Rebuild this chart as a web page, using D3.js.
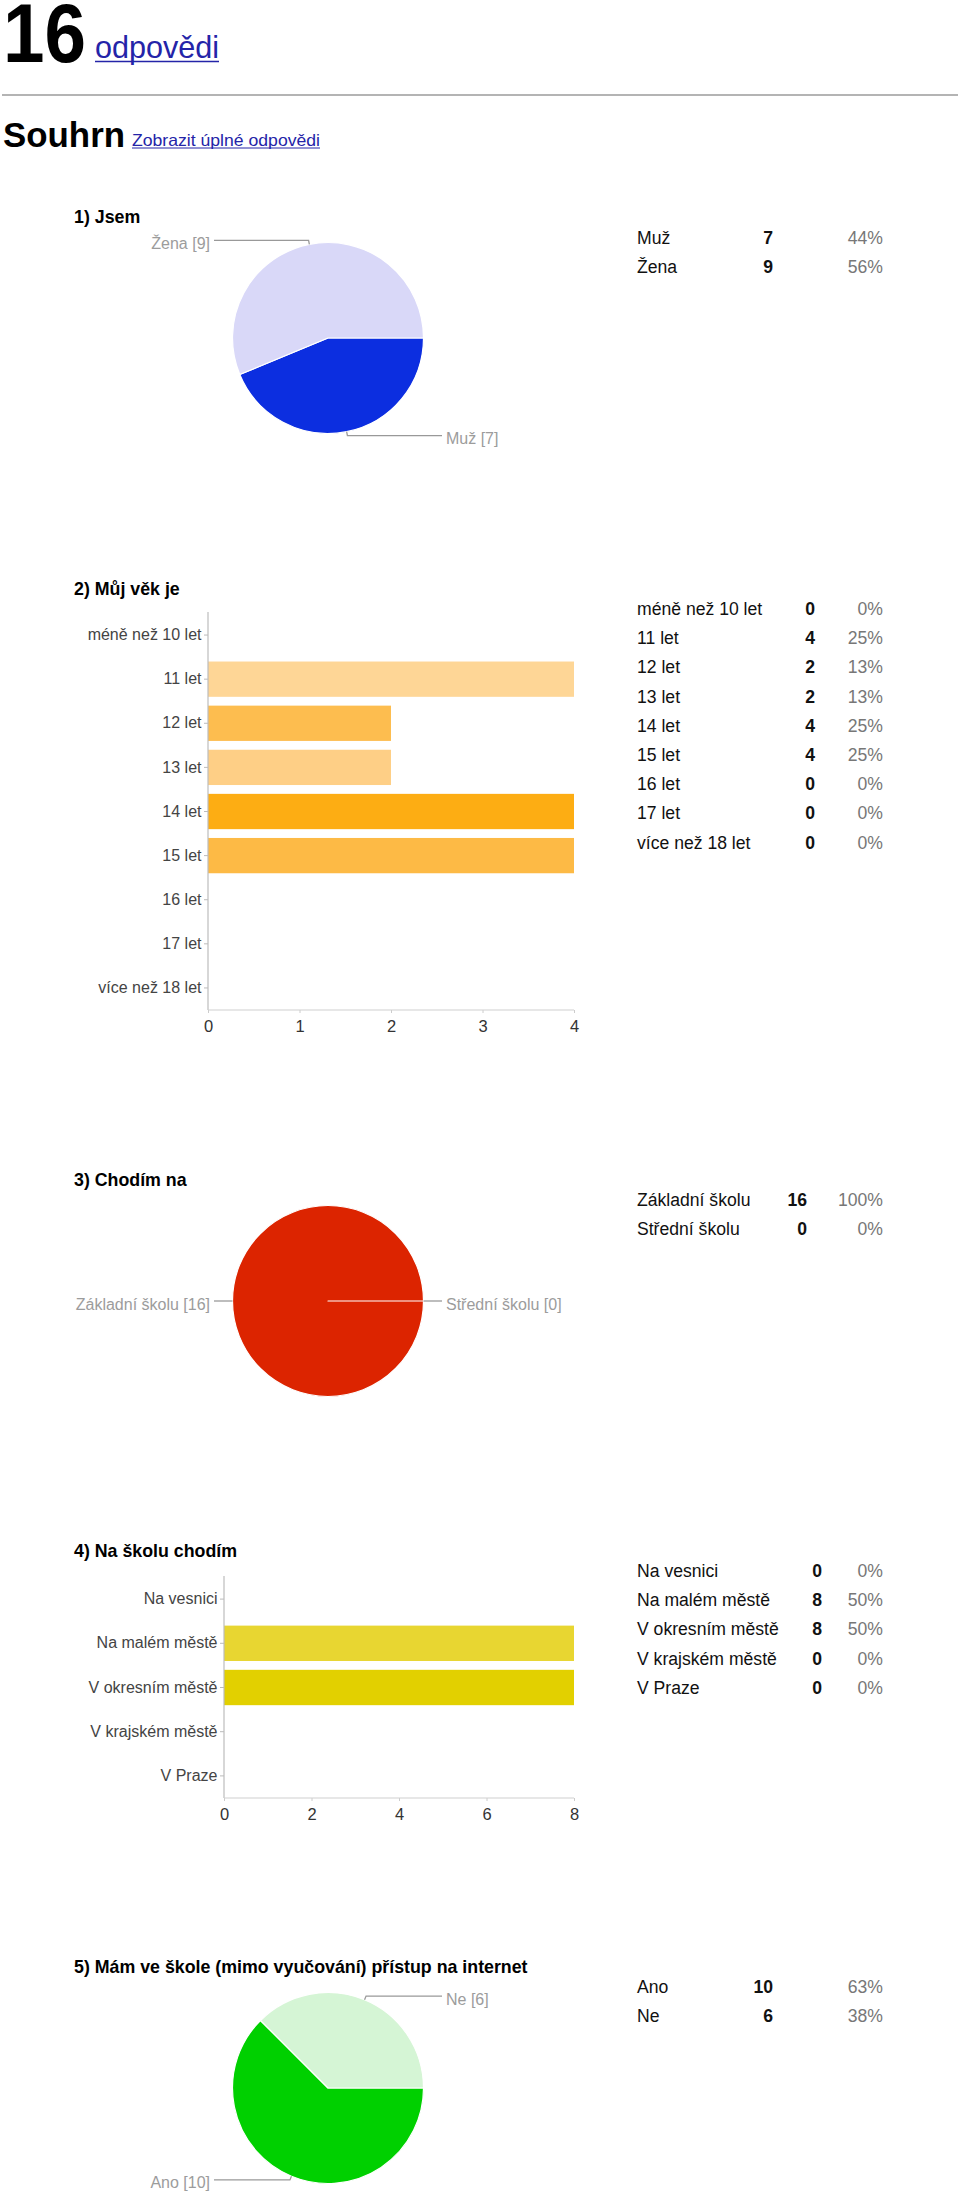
<!DOCTYPE html>
<html><head><meta charset="utf-8">
<script src="https://cdn.jsdelivr.net/npm/d3@7"></script>
<style>
html,body{margin:0;padding:0;background:#fff;}
svg{display:block;font-family:"Liberation Sans",Arial,Helvetica,sans-serif;}
</style>
</head><body>
<svg id="c" width="960" height="2193"></svg>
<script>
// ---------- DATA ----------
const headerCount = "16";
const headerLink = "odpovědi";
const summaryTitle = "Souhrn";
const summaryLink = "Zobrazit úplné odpovědi";

const q1Title = "1) Jsem";
const q1Labels = ["Muž", "Žena"];
const q1Values = [7, 9];

const q2Title = "2) Můj věk je";
const q2Labels = ["méně než 10 let", "11 let", "12 let", "13 let", "14 let", "15 let", "16 let", "17 let", "více než 18 let"];
const q2Values = [0, 4, 2, 2, 4, 4, 0, 0, 0];
const q2Ticks = [0, 1, 2, 3, 4];

const q3Title = "3) Chodím na";
const q3Labels = ["Základní školu", "Střední školu"];
const q3Values = [16, 0];

const q4Title = "4) Na školu chodím";
const q4Labels = ["Na vesnici", "Na malém městě", "V okresním městě", "V krajském městě", "V Praze"];
const q4Values = [0, 8, 8, 0, 0];
const q4Ticks = [0, 2, 4, 6, 8];

const q5Title = "5) Mám ve škole (mimo vyučování) přístup na internet";
const q5Labels = ["Ano", "Ne"];
const q5Values = [10, 6];

// ---------- STYLE / LAYOUT ----------
const q1Colors = ["#0c2ee0", "#d9d8f8"];
const q2Colors = ["#fee2b3", "#fed696", "#fdbd4f", "#fecf86", "#fdad13", "#fdba45", "#fec66a", "#fed696", "#fdbd4f"];
const q3Colors = ["#dc2400", "#f4a27a"];
const q4Colors = ["#eee27a", "#e8d631", "#e2d000", "#efe57a", "#f3ea9a"];
const q5Colors = ["#00d000", "#d5f5d5"];

const svg = d3.select("#c");
const FONT = '"Liberation Sans",Arial,Helvetica,sans-serif';
const LINK = "#2424a8";

// ---------- HEADER ----------
svg.append("text").attr("x", 3).attr("y", 62)
  .attr("font-size", 84).attr("font-weight", "bold").attr("fill", "#000")
  .attr("textLength", 83).attr("lengthAdjust", "spacingAndGlyphs")
  .text(headerCount);
svg.append("text").attr("x", 95).attr("y", 58)
  .attr("font-size", 32).attr("fill", LINK)
  .attr("textLength", 124).attr("lengthAdjust", "spacingAndGlyphs")
  .text(headerLink);
svg.append("line").attr("x1", 95).attr("x2", 219).attr("y1", 61.5).attr("y2", 61.5)
  .attr("stroke", LINK).attr("stroke-width", 1.6);

svg.append("line").attr("x1", 2).attr("x2", 958).attr("y1", 95).attr("y2", 95)
  .attr("stroke", "#b4b4b4").attr("stroke-width", 2.2);

svg.append("text").attr("x", 3).attr("y", 147)
  .attr("font-size", 35).attr("font-weight", "bold").attr("fill", "#000")
  .attr("textLength", 122).attr("lengthAdjust", "spacingAndGlyphs")
  .text(summaryTitle);
svg.append("text").attr("x", 132).attr("y", 146)
  .attr("font-size", 16.5).attr("fill", LINK)
  .attr("textLength", 188).attr("lengthAdjust", "spacingAndGlyphs")
  .text(summaryLink);
svg.append("line").attr("x1", 132).attr("x2", 320).attr("y1", 148).attr("y2", 148)
  .attr("stroke", LINK).attr("stroke-width", 1);

// ---------- HELPERS ----------
function title(t, y) {
  svg.append("text").attr("x", 74).attr("y", y)
    .attr("font-size", 17.8).attr("font-weight", "bold").attr("fill", "#000").text(t);
}

function table(labels, values, y0, numX) {
  const total = d3.sum(values);
  const g = svg.append("g").attr("font-size", 17.6);
  labels.forEach((l, i) => {
    const y = y0 + i * 29.2;
    g.append("text").attr("x", 637).attr("y", y).attr("fill", "#111").text(l);
    g.append("text").attr("x", numX).attr("y", y).attr("text-anchor", "end")
      .attr("font-weight", "bold").attr("fill", "#111").text(values[i]);
    g.append("text").attr("x", 883).attr("y", y).attr("text-anchor", "end")
      .attr("fill", "#777").text(Math.round(values[i] / total * 100) + "%");
  });
}

function pie(labels, values, colors, cx, cy) {
  const r = 95.5;
  const arcs = d3.pie().sort(null).startAngle(Math.PI / 2).endAngle(Math.PI / 2 + 2 * Math.PI)(values);
  const arc = d3.arc().innerRadius(0).outerRadius(r);
  const g = svg.append("g").attr("transform", `translate(${cx},${cy})`);
  g.selectAll("path").data(arcs).join("path")
    .attr("d", arc).attr("fill", (d, i) => colors[i])
    .attr("stroke", "#fff").attr("stroke-width", 1.2).attr("stroke-linejoin", "round");
  arcs.forEach((d, i) => {
    const a = (d.startAngle + d.endAngle) / 2;
    const sx = Math.sin(a), sy = -Math.cos(a);
    const right = sx >= -1e-9;
    const p1 = [sx * r, sy * r];
    const p2 = [sx * (r + 4), sy * (r + 4)];
    const xe = right ? 114 : -114;
    g.append("polyline")
      .attr("points", [p1, p2, [xe, p2[1]]].map(p => p.join(",")).join(" "))
      .attr("fill", "none").attr("stroke", "#999").attr("stroke-width", 1.3);
    g.append("text").attr("x", right ? 118 : -118).attr("y", p2[1] + 8.5)
      .attr("text-anchor", right ? "start" : "end")
      .attr("font-size", 16).attr("fill", "#9c9c9c")
      .text(`${labels[i]} [${values[i]}]`);
  });
}

function bars(labels, values, colors, ticks, x0, x1, y0, y1) {
  const x = d3.scaleLinear().domain([0, d3.max(ticks)]).range([x0, x1]);
  const y = d3.scaleBand().domain(labels).range([y0, y1]).paddingInner(0.2).paddingOuter(0.1);
  const g = svg.append("g");
  g.selectAll("rect").data(values).join("rect")
    .attr("x", x(0)).attr("y", (d, i) => y(labels[i]))
    .attr("width", d => x(d) - x(0)).attr("height", y.bandwidth())
    .attr("fill", (d, i) => colors[i]);
  const ya = g.append("g").attr("transform", `translate(${x0},0)`)
    .call(d3.axisLeft(y).tickSize(4).tickPadding(2.5).tickSizeOuter(0));
  ya.select(".domain").remove();
  ya.selectAll("line").attr("stroke", "#bbb");
  ya.selectAll("text").attr("font-size", 16).attr("fill", "#444").attr("font-family", FONT);
  const xa = g.append("g").attr("transform", `translate(0,${y1})`)
    .call(d3.axisBottom(x).tickValues(ticks).tickFormat(d3.format("d")).tickSize(3).tickPadding(7.5).tickSizeOuter(0));
  xa.select(".domain").remove();
  xa.selectAll("line").attr("stroke", "#ccc");
  xa.selectAll("text").attr("font-size", 16.5).attr("fill", "#333").attr("font-family", FONT);
  g.append("line").attr("x1", x0).attr("x2", x0).attr("y1", y0 - 1).attr("y2", y1)
    .attr("stroke", "#bdbdbd").attr("stroke-width", 1.2);
  g.append("line").attr("x1", x0).attr("x2", x1).attr("y1", y1).attr("y2", y1)
    .attr("stroke", "#cfcfcf").attr("stroke-width", 1.2);
}

// ---------- SECTIONS ----------
title(q1Title, 223);
pie(q1Labels, q1Values, q1Colors, 328, 338);
table(q1Labels, q1Values, 244, 773);

title(q2Title, 595);
bars(q2Labels, q2Values, q2Colors, q2Ticks, 208, 574, 613, 1010);
table(q2Labels, q2Values, 615, 815);

title(q3Title, 1186);
pie(q3Labels, q3Values, q3Colors, 328, 1301);
table(q3Labels, q3Values, 1206, 807);

title(q4Title, 1557);
bars(q4Labels, q4Values, q4Colors, q4Ticks, 224, 574, 1577, 1798);
table(q4Labels, q4Values, 1577, 822);

title(q5Title, 1973);
pie(q5Labels, q5Values, q5Colors, 328, 2088);
table(q5Labels, q5Values, 1993, 773);
</script>
</body></html>
